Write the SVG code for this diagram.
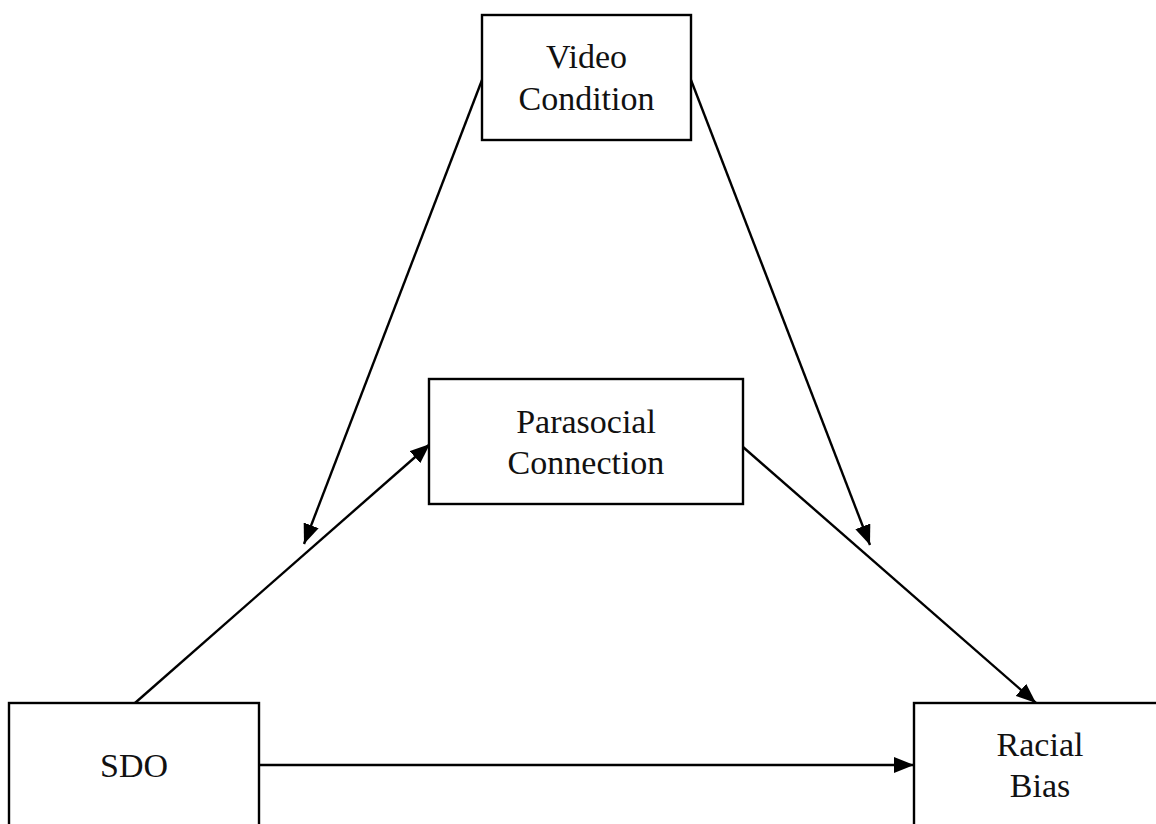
<svg xmlns="http://www.w3.org/2000/svg" width="1156" height="824" viewBox="0 0 1156 824">
<style>
.box{fill:#fff;stroke:#000;stroke-width:2.4}
.t{font-family:"Liberation Serif","Times New Roman",serif;font-size:34px;fill:#111;text-anchor:middle}
.c{stroke:#000;stroke-width:2.4;fill:none;marker-end:url(#ah)}
</style>
<defs>
<marker id="ah" markerWidth="20" markerHeight="16" refX="20" refY="8" orient="auto" markerUnits="userSpaceOnUse">
<path d="M0,0 L20,8 L0,16 Z" fill="#000"/>
</marker>
</defs>
<rect width="1156" height="824" fill="#fff"/>
<g id="connectors">
<line class="c" x1="482" y1="80" x2="304" y2="544"/>
<line class="c" x1="691" y1="80" x2="870" y2="545"/>
<line class="c" x1="135" y1="703" x2="430" y2="444"/>
<line class="c" x1="743" y1="447" x2="1036" y2="703"/>
<line class="c" x1="259" y1="765" x2="914" y2="765"/>
</g>
<g id="video">
<rect class="box" x="482" y="15" width="209" height="125"/>
<text class="t" x="586.5" y="68">Video</text>
<text class="t" x="586.5" y="110">Condition</text>
</g>
<g id="parasocial">
<rect class="box" x="429" y="379" width="314" height="125"/>
<text class="t" x="586" y="433">Parasocial</text>
<text class="t" x="586" y="474">Connection</text>
</g>
<g id="sdo">
<rect class="box" x="9" y="703" width="250" height="140"/>
<text class="t" x="134" y="777">SDO</text>
</g>
<g id="racial">
<rect class="box" x="914" y="703" width="260" height="140"/>
<text class="t" x="1040" y="756">Racial</text>
<text class="t" x="1040" y="797">Bias</text>
</g>
</svg>
